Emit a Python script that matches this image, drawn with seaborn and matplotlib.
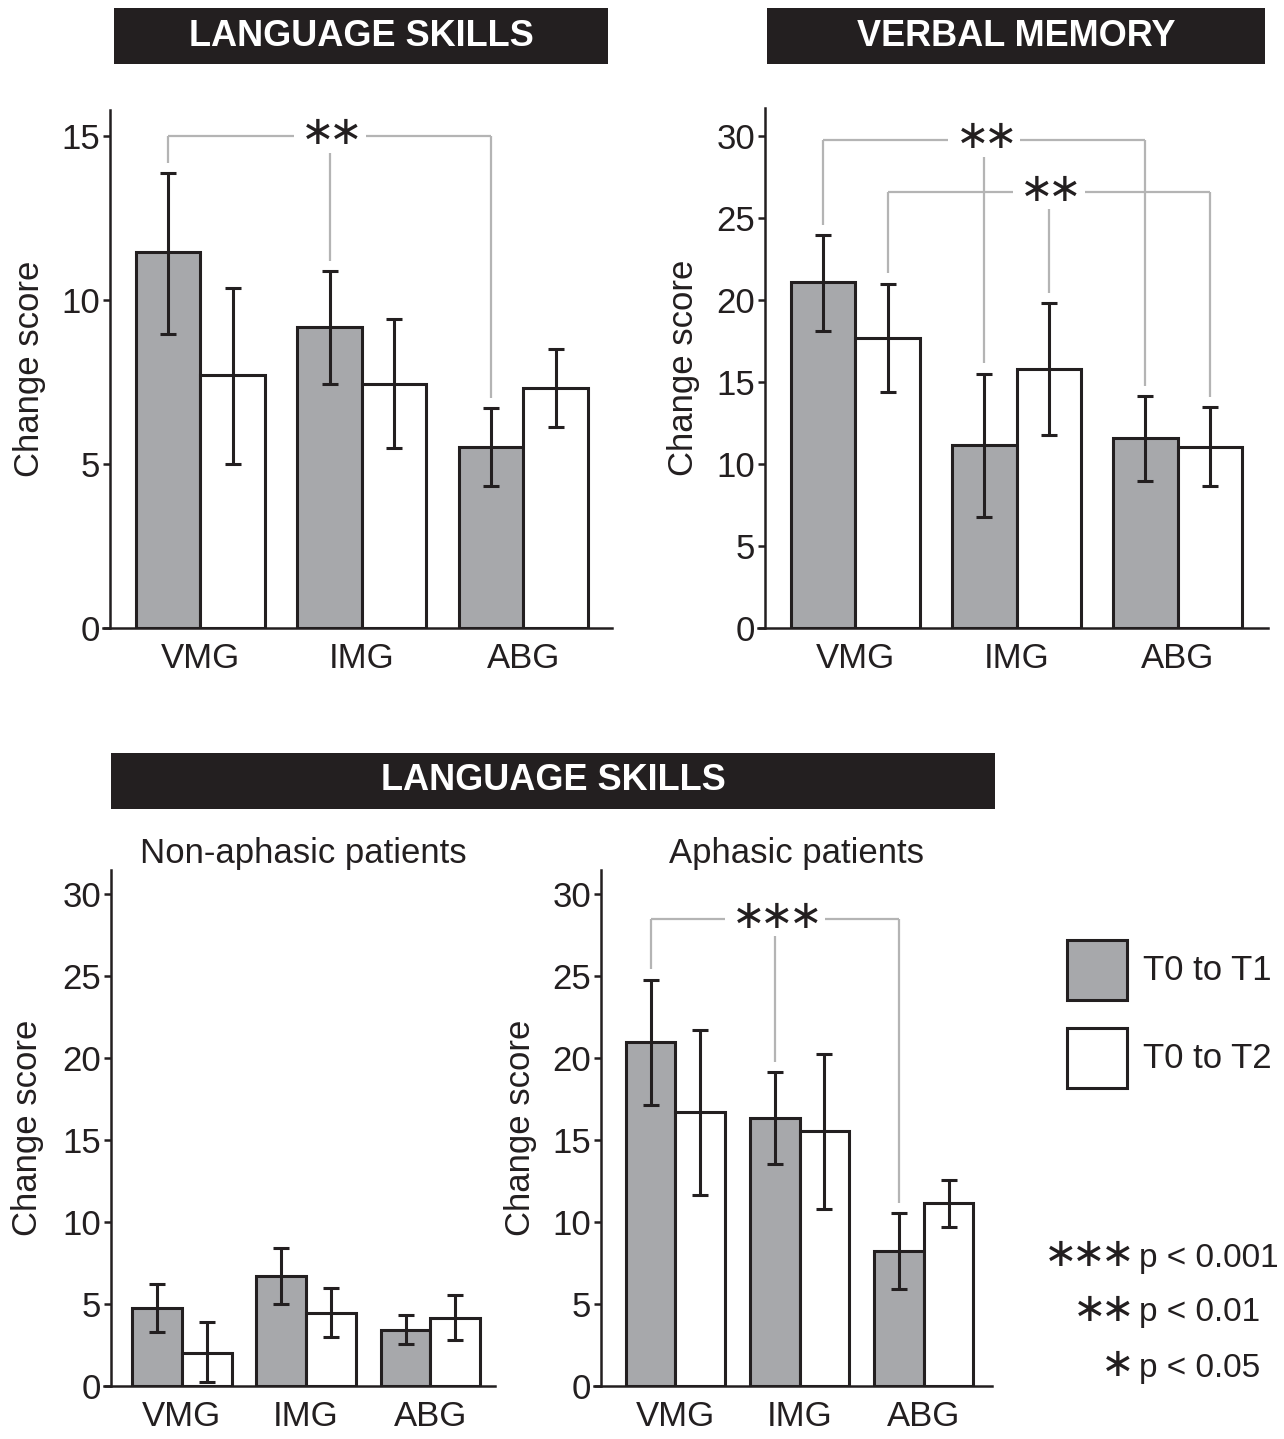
import matplotlib
matplotlib.use("Agg")
import matplotlib.pyplot as plt
from matplotlib.patches import Rectangle
from matplotlib.transforms import offset_copy
import seaborn as sns
import pandas as pd
import numpy as np

# ---------------- data ----------------
groups = ["VMG", "IMG", "ABG"]
periods = ["T0 to T1", "T0 to T2"]

lang_t1 = [11.45, 9.17, 5.52]
lang_t1_lo = [8.97, 7.45, 4.34]
lang_t1_hi = [13.87, 10.88, 6.71]
lang_t2 = [7.70, 7.45, 7.31]
lang_t2_lo = [4.99, 5.48, 6.14]
lang_t2_hi = [10.37, 9.41, 8.50]

mem_t1 = [21.07, 11.16, 11.57]
mem_t1_lo = [18.12, 6.77, 8.98]
mem_t1_hi = [23.95, 15.51, 14.13]
mem_t2 = [17.67, 15.78, 11.05]
mem_t2_lo = [14.36, 11.77, 8.64]
mem_t2_hi = [20.98, 19.81, 13.46]

nonaph_t1 = [4.73, 6.70, 3.40]
nonaph_t1_lo = [3.27, 5.02, 2.54]
nonaph_t1_hi = [6.23, 8.40, 4.33]
nonaph_t2 = [2.03, 4.47, 4.16]
nonaph_t2_lo = [0.22, 2.98, 2.83]
nonaph_t2_hi = [3.89, 5.97, 5.53]

aph_t1 = [20.98, 16.36, 8.25]
aph_t1_lo = [17.11, 13.53, 5.93]
aph_t1_hi = [24.78, 19.15, 10.53]
aph_t2 = [16.71, 15.56, 11.17]
aph_t2_lo = [11.67, 10.79, 9.67]
aph_t2_hi = [21.71, 20.27, 12.58]

# significance brackets: (level, hue index, number of stars)
lang_brackets = [(15.0, 0, 2)]
mem_brackets = [(29.75, 0, 2), (26.56, 1, 2)]
nonaph_brackets = []
aph_brackets = [(28.45, 0, 3)]

sig_stars = [3, 2, 1]
sig_texts = ["p < 0.001", "p < 0.01", "p < 0.05"]

# ---------------- style ----------------
sns.set_style("ticks")
plt.rcParams["font.family"] = ["Liberation Sans", "DejaVu Sans"]

GRAY = "#a7a8ab"
DARK = "#231f20"
BRK = "#b4b4b4"
FS = 25
STAR_FS = 29
PITCH = 28  # approx px per star
W, H = 1284, 1439

fig = plt.figure(figsize=(W / 100, H / 100), dpi=100)


def px_rect(x0, y0, x1, y1):
    return [x0 / W, 1 - y1 / H, (x1 - x0) / W, (y1 - y0) / H]


def star_str(n):
    return "$" + r"\hspace{-0.13}".join([r"{\ast}"] * n) + "$"


def draw_stars(target, x, y, n, transform, ha="center"):
    tr = offset_copy(transform, fig=fig, x=0, y=2, units="points")
    target.text(x, y, star_str(n), transform=tr, ha=ha, va="center",
                fontsize=STAR_FS, color=DARK, zorder=5)


def panel(rect, t1, t1lo, t1hi, t2, t2lo, t2hi, brackets, ymax, yticks, xlim, ylab_px, title=None):
    ax = fig.add_axes(px_rect(*rect))
    aw = rect[2] - rect[0]
    ah = rect[3] - rect[1]
    df = pd.DataFrame({
        "group": groups * 2,
        "period": [periods[0]] * 3 + [periods[1]] * 3,
        "score": list(t1) + list(t2),
    })
    sns.barplot(data=df, x="group", y="score", hue="period", order=groups,
                hue_order=periods, palette=[GRAY, "white"], saturation=1,
                errorbar=None, edgecolor=DARK, linewidth=2.2, width=0.8, ax=ax)
    vals = [(np.array(t1), np.array(t1lo), np.array(t1hi)),
            (np.array(t2), np.array(t2lo), np.array(t2hi))]
    centers = []
    for h, (v, lo, hi) in enumerate(vals):
        xs = [b.get_x() + b.get_width() / 2 for b in ax.containers[h]]
        centers.append(xs)
        ax.errorbar(xs, v, yerr=[v - lo, hi - v], fmt="none", ecolor=DARK,
                    elinewidth=2.2, capsize=5.5, capthick=2.2, zorder=4)
    gap = 0.02 * ymax
    xpx = (xlim[1] - xlim[0]) / aw
    ypx = ymax / ah
    for level, h, n in brackets:
        xs = centers[h]
        hi = vals[h][2]
        half = (n * PITCH / 2 + 8) * xpx
        kw = dict(color=BRK, lw=1.6, zorder=2, solid_capstyle="butt")
        ax.plot([xs[0], xs[1] - half], [level, level], **kw)
        ax.plot([xs[1] + half, xs[2]], [level, level], **kw)
        ax.plot([xs[0], xs[0]], [level, hi[0] + gap], **kw)
        ax.plot([xs[2], xs[2]], [level, hi[2] + gap], **kw)
        ax.plot([xs[1], xs[1]], [level - 17 * ypx, hi[1] + gap], **kw)
        draw_stars(ax, xs[1], level, n, ax.transData)
    ax.set_xlim(*xlim)
    ax.set_ylim(0, ymax)
    ax.set_yticks(yticks)
    ax.set_xlabel("")
    ax.set_ylabel("Change score", fontsize=FS, color=DARK)
    ax.yaxis.set_label_coords((ylab_px - rect[0]) / aw, 0.5)
    sns.despine(ax=ax)
    for s in ["left", "bottom"]:
        ax.spines[s].set_linewidth(1.8)
        ax.spines[s].set_color(DARK)
    ext = 7 * xpx
    ax.spines["bottom"].set_bounds(xlim[0] - ext, xlim[1])
    ax.tick_params(axis="y", direction="out", length=5, width=1.8, colors=DARK,
                   labelsize=FS, pad=2)
    ax.tick_params(axis="x", length=0, labelsize=FS, pad=10, colors=DARK)
    if ax.get_legend() is not None:
        ax.get_legend().remove()
    if title:
        ax.set_title(title, fontsize=FS, color=DARK, pad=0)
    ax.set_facecolor("none")
    return ax


ax1 = panel((110, 110, 612, 628), lang_t1, lang_t1_lo, lang_t1_hi, lang_t2, lang_t2_lo, lang_t2_hi,
            lang_brackets, 15.79, [0, 5, 10, 15], (-0.56, 2.55), 46)
ax2 = panel((765, 108, 1268, 628), mem_t1, mem_t1_lo, mem_t1_hi, mem_t2, mem_t2_lo, mem_t2_hi,
            mem_brackets, 31.7, [0, 5, 10, 15, 20, 25, 30], (-0.56, 2.56), 700)
ax3 = panel((111, 870, 495, 1386), nonaph_t1, nonaph_t1_lo, nonaph_t1_hi, nonaph_t2, nonaph_t2_lo,
            nonaph_t2_hi, nonaph_brackets, 31.46, [0, 5, 10, 15, 20, 25, 30], (-0.57, 2.52), 44,
            title="Non-aphasic patients")
ax4 = panel((601, 870, 992, 1386), aph_t1, aph_t1_lo, aph_t1_hi, aph_t2, aph_t2_lo, aph_t2_hi,
            aph_brackets, 31.46, [0, 5, 10, 15, 20, 25, 30], (-0.60, 2.55), 537,
            title="Aphasic patients")

# ---------------- section titles ----------------
for (x0, y0, x1, y1), txt in [((114, 8, 608, 64), "LANGUAGE SKILLS"),
                              ((767, 8, 1265, 64), "VERBAL MEMORY"),
                              ((111, 753, 995, 809), "LANGUAGE SKILLS")]:
    fig.patches.append(Rectangle((x0 / W, 1 - y1 / H), (x1 - x0) / W, (y1 - y0) / H,
                                 transform=fig.transFigure, fc=DARK, ec="none"))
    fig.text((x0 + x1) / 2 / W, 1 - (y0 + y1) / 2 / H, txt, ha="center", va="center",
             color="white", fontsize=FS + 1, fontweight="bold")

# ---------------- legend (squares styled like the bars) ----------------
for i, label in enumerate(periods):
    bar = ax4.containers[i][0]
    top = 940 + 88 * i
    fig.patches.append(Rectangle((1067 / W, 1 - (top + 60) / H), 60 / W, 60 / H,
                                 transform=fig.transFigure, fc=bar.get_facecolor(),
                                 ec=DARK, lw=2.2))
    fig.text(1143 / W, 1 - (top + 30) / H, label, ha="left", va="center",
             fontsize=FS, color=DARK)

for i, (n, txt) in enumerate(zip(sig_stars, sig_texts)):
    y = 1 - (1258 + 55 * i) / H
    draw_stars(fig, 1131 / W, y, n, fig.transFigure, ha="right")
    fig.text(1139 / W, y, txt, ha="left", va="center", fontsize=FS - 1, color=DARK)

fig.savefig("out.png", dpi=100, facecolor="white")
